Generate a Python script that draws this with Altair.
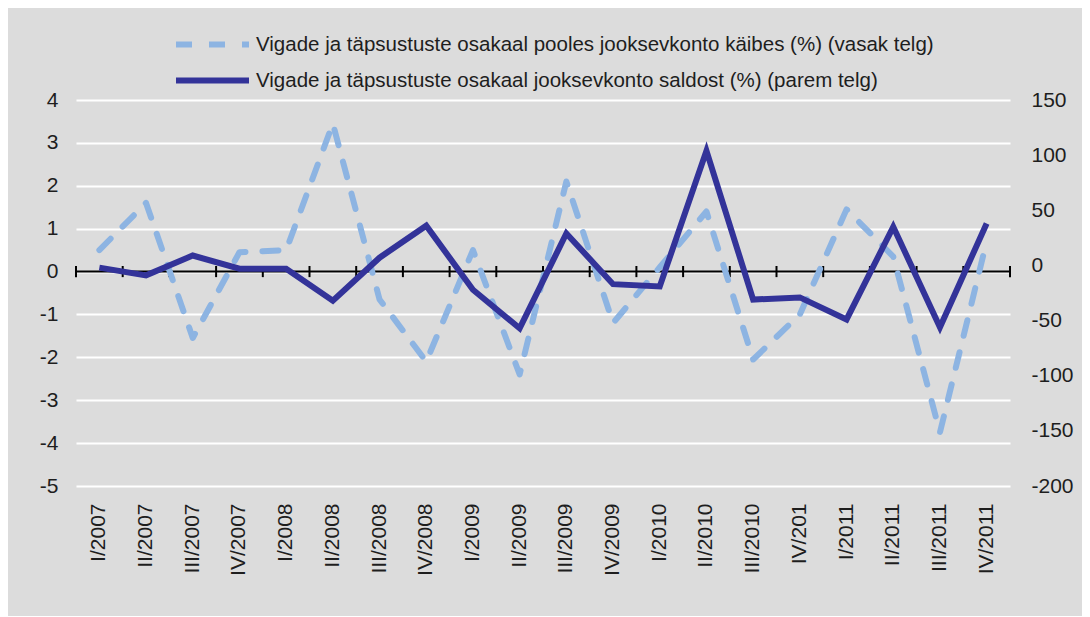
import altair as alt
import pandas as pd

# ---- data ----
categories = ["I/2007", "II/2007", "III/2007", "IV/2007", "I/2008", "II/2008", "III/2008",
              "IV/2008", "I/2009", "II/2009", "III/2009", "IV/2009", "I/2010", "II/2010",
              "III/2010", "IV/201", "I/2011", "II/2011", "III/2011", "IV/2011"]
share_of_turnover = [0.5, 1.6, -1.55, 0.45, 0.5, 3.45, -0.65, -2.1, 0.5, -2.4,
                     2.1, -1.2, 0.1, 1.4, -2.05, -1.0, 1.45, 0.35, -3.75, 0.7]
share_of_balance = [-2, -9, 9, -3, -3, -32, 7, 36, -22, -57,
                    29, -17, -19, 104, -31, -29, -49, 35, -56, 38]
series_names = [
    "Vigade ja täpsustuste osakaal pooles jooksevkonto käibes (%) (vasak telg)",
    "Vigade ja täpsustuste osakaal jooksevkonto saldost (%) (parem telg)",
]
left_ticks = [4, 3, 2, 1, 0, -1, -2, -3, -4, -5]
right_ticks = [150, 100, 50, 0, -50, -100, -150, -200]

FONT = "Liberation Sans"
TXT = "#1e1e1e"
DASH = [16, 17]

df = pd.DataFrame({
    "cat": categories * 2,
    "series": [series_names[0]] * len(categories) + [series_names[1]] * len(categories),
    "value": share_of_turnover + share_of_balance,
})
edges_start = pd.DataFrame({"cat": categories})
edges_end = pd.DataFrame({"cat": categories[-1:]})
zero_df = pd.DataFrame({"z": [0]})

xscale = alt.Scale(type="band", domain=categories, paddingInner=0, paddingOuter=0)
x_axis = alt.Axis(title=None, labelAngle=-90, labelAlign="right", labelBaseline="middle",
                  labelPadding=17, domain=False, ticks=False, grid=False,
                  labelFont=FONT, labelFontSize=21, labelColor=TXT)

left_scale = alt.Scale(domain=[-5, 4], nice=False, zero=False)
left_axis = alt.Axis(title=None, orient="left", values=left_ticks, domain=False, ticks=False,
                     grid=True, gridColor="white", gridWidth=2, labelPadding=18,
                     labelExpr="toString(datum.value)",
                     labelFont=FONT, labelFontSize=21, labelColor=TXT)
right_scale = alt.Scale(domain=[-200, 150], nice=False, zero=False)
right_axis = alt.Axis(title=None, orient="right", values=right_ticks, domain=False, ticks=False,
                      grid=False, labelPadding=21,
                      labelExpr="toString(datum.value)",
                      labelFont=FONT, labelFontSize=21, labelColor=TXT)


def make_legend(y, dash=None):
    kw = dict(orient="none", legendX=97, legendY=y, direction="vertical",
              symbolType="stroke", symbolSize=5329, symbolStrokeWidth=6,
              labelFont=FONT, labelFontSize=20.5, labelColor=TXT, labelLimit=1000,
              labelOffset=4, padding=0)
    if dash is not None:
        kw["symbolDash"] = dash
    return alt.Legend(**kw)


color_dashed = alt.Color("series:N", title=None,
                         scale=alt.Scale(domain=series_names[:1], range=["#8db4e2"]),
                         legend=make_legend(-95, DASH))
color_solid = alt.Color("series:N", title=None,
                        scale=alt.Scale(domain=series_names[1:], range=["#333399"]),
                        legend=make_legend(-59))

zero_line = alt.Chart(zero_df).mark_rule(color="black", strokeWidth=2).encode(
    y=alt.Y("z:Q", scale=left_scale, axis=left_axis)
)
ticks_a = alt.Chart(edges_start).mark_rule(color="black", strokeWidth=2).encode(
    x=alt.X("cat:N", sort=categories, scale=xscale, axis=x_axis, bandPosition=0),
    y=alt.datum(-0.13), y2=alt.datum(0.13),
)
ticks_b = alt.Chart(edges_end).mark_rule(color="black", strokeWidth=2).encode(
    x=alt.X("cat:N", sort=categories, scale=xscale, axis=x_axis, bandPosition=1),
    y=alt.datum(-0.13), y2=alt.datum(0.13),
)
dashed = alt.Chart(df).transform_filter(
    alt.datum.series == series_names[0]
).mark_line(strokeWidth=6, strokeCap="round", strokeJoin="round", strokeDash=DASH).encode(
    x=alt.X("cat:N", sort=categories, scale=xscale, axis=x_axis, bandPosition=0.5),
    y=alt.Y("value:Q", scale=left_scale, axis=left_axis),
    color=color_dashed,
)
solid = alt.Chart(df).transform_filter(
    alt.datum.series == series_names[1]
).mark_line(strokeWidth=6, strokeCap="butt", strokeJoin="miter").encode(
    x=alt.X("cat:N", sort=categories, scale=xscale, axis=x_axis, bandPosition=0.5),
    y=alt.Y("value:Q", scale=right_scale, axis=right_axis),
    color=color_solid,
)

left_layer = alt.layer(zero_line, ticks_a, ticks_b, dashed)
chart = alt.layer(left_layer, solid).resolve_scale(
    y="independent", color="independent"
).properties(
    width=934, height=386,
    padding={"left": 68, "top": 92, "right": 72, "bottom": 130},
    autosize=alt.AutoSizeParams(type="none"),
    background="#dcdcdc",
).configure_view(stroke=None)

chart.save("out.html", embed_options={"renderer": "svg", "actions": False})
